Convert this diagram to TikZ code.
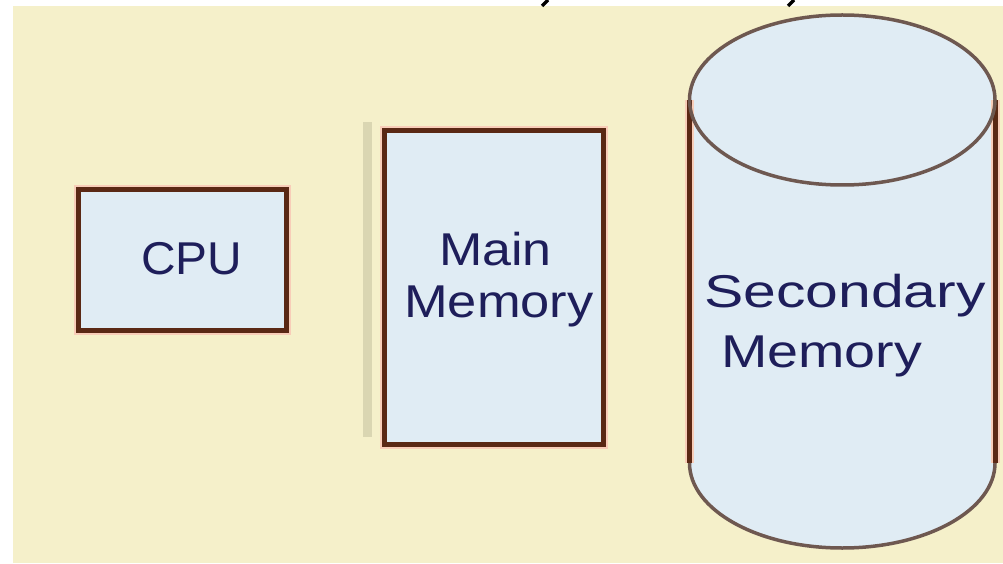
\documentclass[tikz,border=0pt]{standalone}
\usepackage{fontspec}
\setmainfont{Liberation Sans}
\definecolor{paper}{HTML}{F5F0CA}
\definecolor{boxfill}{HTML}{E0ECF4}
\definecolor{edge}{HTML}{5A2814}
\definecolor{halo}{HTML}{F8CDB8}
\definecolor{rim}{HTML}{6E5850}
\definecolor{ink}{HTML}{1E1E5A}
\definecolor{sidegrey}{HTML}{DAD6B2}
\tikzset{
  unitbox/.style={draw=edge, line width=5pt, fill=boxfill, inner sep=0pt,
    preaction={draw=halo, line width=9pt}},
  label/.style={text=ink, anchor=base west, inner sep=0pt,
    font=\fontsize{46}{52}\selectfont},
}
\begin{document}
\begin{tikzpicture}[x=1pt,y=1pt]
\useasboundingbox (0,0) rectangle (1003,563);
\fill[white] (0,0) rectangle (1003,563);
\fill[paper] (13,0) rectangle (1003,557);

% tails of the heading letters cut off at the top edge
\draw[black, line width=3.5pt] (548,563) -- (542,557);
\draw[black, line width=3.5pt] (794,563) -- (788,557);

% CPU
\node[unitbox, minimum width=208pt, minimum height=140.5pt] (cpu) at (182.5,302.75) {};
\node[label, xscale=1.04] (cputext) at (141,289) {CPU};

% main memory with its shadow edge
\fill[sidegrey] (363,126) rectangle (372,441);
\node[unitbox, minimum width=218.5pt, minimum height=314pt] (main) at (493.75,275.5) {};
\node[label, xscale=1.13] (maintext) at (439,298) {Main};
\node[label, xscale=1.14] (memtext) at (404,246) {Memory};

% secondary memory drum
\fill[boxfill] (689.5,463) -- (689.5,100)
  arc[start angle=180, end angle=360, x radius=152.75, y radius=85]
  -- (995,463)
  arc[start angle=0, end angle=180, x radius=152.75, y radius=85] -- cycle;
\draw[halo, line width=9pt] (689.5,463) -- (689.5,100) (995,100) -- (995,463);
\draw[edge, line width=5pt] (689.5,463) -- (689.5,100) (995,100) -- (995,463);
\draw[rim, line width=3.5pt] (689.5,100)
  arc[start angle=180, end angle=360, x radius=152.75, y radius=85];
\draw[rim, line width=3.5pt] (842.25,463) ellipse[x radius=152.75, y radius=85];
\node[label, xscale=1.28] (sectext) at (704,256) {Secondary};
\node[label, xscale=1.21] (sectext2) at (721,196) {Memory};
\end{tikzpicture}
\end{document}
